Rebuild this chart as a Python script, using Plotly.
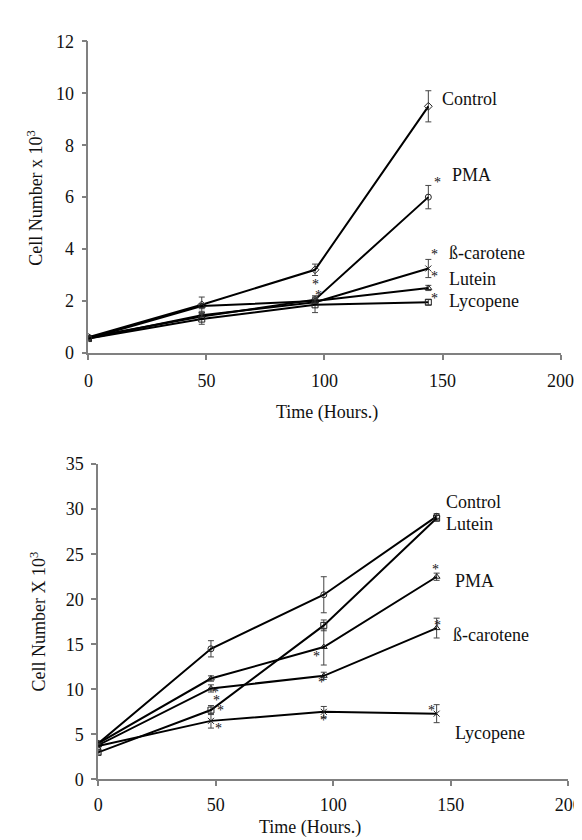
import plotly.graph_objects as go

W, H = 582, 840
FONT = "Liberation Serif"

time_h = [0, 48, 96, 144]

# ---- Top panel (Cell Number x 10^3) ----
top_names = ["Control", "PMA", "ß-carotene", "Lutein", "Lycopene"]
top_values = {
    "Control":    [0.6, 1.85, 3.2, 9.5],
    "PMA":        [0.6, 1.4, 2.05, 6.0],
    "ß-carotene": [0.55, 1.45, 1.95, 3.25],
    "Lutein":     [0.55, 1.8, 2.0, 2.5],
    "Lycopene":   [0.55, 1.3, 1.85, 1.95],
}
top_errors = {
    "Control":    [0.05, 0.3, 0.22, 0.6],
    "PMA":        [0.05, 0.1, 0.15, 0.45],
    "ß-carotene": [0.05, 0.15, 0.1, 0.35],
    "Lutein":     [0.05, 0.1, 0.1, 0.1],
    "Lycopene":   [0.05, 0.2, 0.3, 0.1],
}
top_symbols = {"Control": "diamond-open", "PMA": "circle-open", "ß-carotene": "x-thin-open",
               "Lutein": "triangle-up-open", "Lycopene": "square-open"}
top_label_x = [149, 153, 152, 152, 152]
top_label_y = [9.8, 6.85, 3.85, 2.83, 1.98]
top_star_x = [96.3, 97.5, 148, 146.5, 146.5, 146.5]
top_star_y = [2.65, 2.2, 6.55, 3.8, 2.95, 2.1]

# ---- Bottom panel (Cell Number X 10^3) ----
bot_names = ["Control", "Lutein", "PMA", "ß-carotene", "Lycopene"]
bot_values = {
    "Control":    [4.0, 14.5, 20.5, 29.2],
    "Lutein":     [3.0, 7.7, 17.1, 29.0],
    "PMA":        [4.0, 11.2, 14.7, 22.5],
    "ß-carotene": [3.8, 10.1, 11.5, 16.8],
    "Lycopene":   [3.7, 6.5, 7.5, 7.3],
}
bot_errors = {
    "Control":    [0.2, 0.9, 2.0, 0.3],
    "Lutein":     [0.2, 0.5, 0.6, 0.3],
    "PMA":        [0.2, 0.3, 2.0, 0.4],
    "ß-carotene": [0.2, 0.4, 0.4, 1.1],
    "Lycopene":   [0.2, 0.8, 0.6, 1.0],
}
bot_symbols = {"Control": "circle-open", "Lutein": "square-open", "PMA": "triangle-up-open",
               "ß-carotene": "triangle-up-open", "Lycopene": "x-thin-open"}
bot_label_x = [147, 147, 151, 150, 151]
bot_label_y = [30.8, 28.4, 22.0, 16.0, 5.1]
bot_star_x = [50, 50.5, 52, 51, 93, 95, 96, 143.5, 144.5, 142]
bot_star_y = [9.7, 8.8, 7.6, 5.7, 13.7, 10.8, 6.5, 23.3, 17.1, 7.6]

fig = go.Figure()

def add_series(names, values, errors, symbols, xa, ya):
    for n in names:
        fig.add_trace(go.Scatter(
            x=time_h, y=values[n], mode="lines+markers", name=n,
            xaxis=xa, yaxis=ya, showlegend=False,
            line=dict(color="black", width=2),
            marker=dict(symbol=symbols[n], size=6, color="#222",
                        line=dict(color="#222", width=1)),
            error_y=dict(type="data", array=errors[n], visible=True,
                         color="#444", thickness=1, width=3),
        ))

add_series(top_names, top_values, top_errors, top_symbols, "x", "y")
add_series(bot_names, bot_values, bot_errors, bot_symbols, "x2", "y2")

TXT = dict(family=FONT, size=18, color="#111")
STAR = dict(family=FONT, size=14, color="#111")

ann = []
for n, lx, ly in zip(top_names, top_label_x, top_label_y):
    ann.append(dict(x=lx, y=ly, xref="x", yref="y", text=n, showarrow=False,
                    xanchor="left", yanchor="middle", font=TXT))
for sx, sy in zip(top_star_x, top_star_y):
    ann.append(dict(x=sx, y=sy, xref="x", yref="y", text="*", showarrow=False,
                    xanchor="center", yanchor="middle", font=STAR))
for n, lx, ly in zip(bot_names, bot_label_x, bot_label_y):
    ann.append(dict(x=lx, y=ly, xref="x2", yref="y2", text=n, showarrow=False,
                    xanchor="left", yanchor="middle", font=TXT))
for sx, sy in zip(bot_star_x, bot_star_y):
    ann.append(dict(x=sx, y=sy, xref="x2", yref="y2", text="*", showarrow=False,
                    xanchor="center", yanchor="middle", font=STAR))

def px_x(p):
    return p / W

def px_y(p):
    return 1 - p / H

ann.append(dict(x=px_x(325), y=px_y(404), xref="paper", yref="paper", text="Time (Hours.)",
                showarrow=False, xanchor="center", yanchor="middle", font=TXT))
ann.append(dict(x=px_x(307), y=px_y(829), xref="paper", yref="paper", text="Time (Hours.)",
                showarrow=False, xanchor="center", yanchor="middle", font=TXT))
ann.append(dict(x=px_x(23), y=px_y(184), xref="paper", yref="paper",
                text="Cell Number x 10<sup>3</sup>", textangle=-90,
                showarrow=False, xanchor="center", yanchor="middle", font=TXT))
ann.append(dict(x=px_x(26), y=px_y(618), xref="paper", yref="paper",
                text="Cell Number X 10<sup>3</sup>", textangle=-90,
                showarrow=False, xanchor="center", yanchor="middle", font=TXT))

axis_common = dict(showline=True, linecolor="#808080", linewidth=1.5, ticks="outside",
                   ticklen=5, tickcolor="#808080", tickwidth=1.5, showgrid=False,
                   zeroline=False, tickfont=dict(family=FONT, size=18, color="#111"))

fig.update_layout(
    width=W, height=H, margin=dict(l=0, r=0, t=0, b=0),
    paper_bgcolor="white", plot_bgcolor="white",
    font=dict(family=FONT),
    xaxis=dict(domain=[px_x(78), px_x(566)], range=[0, 200], dtick=50, anchor="y",
               ticklabelstandoff=6, **axis_common),
    yaxis=dict(domain=[px_y(343), px_y(24)], range=[0, 12], dtick=2, anchor="x",
               ticklabelstandoff=4, **axis_common),
    xaxis2=dict(domain=[px_x(88), px_x(574)], range=[0, 200], dtick=50, anchor="y2",
                ticklabelstandoff=3, **axis_common),
    yaxis2=dict(domain=[px_y(780), px_y(457)], range=[0, 35], dtick=5, anchor="x2",
                ticklabelstandoff=4, **axis_common),
    annotations=ann,
)

fig.write_html("out.html")
